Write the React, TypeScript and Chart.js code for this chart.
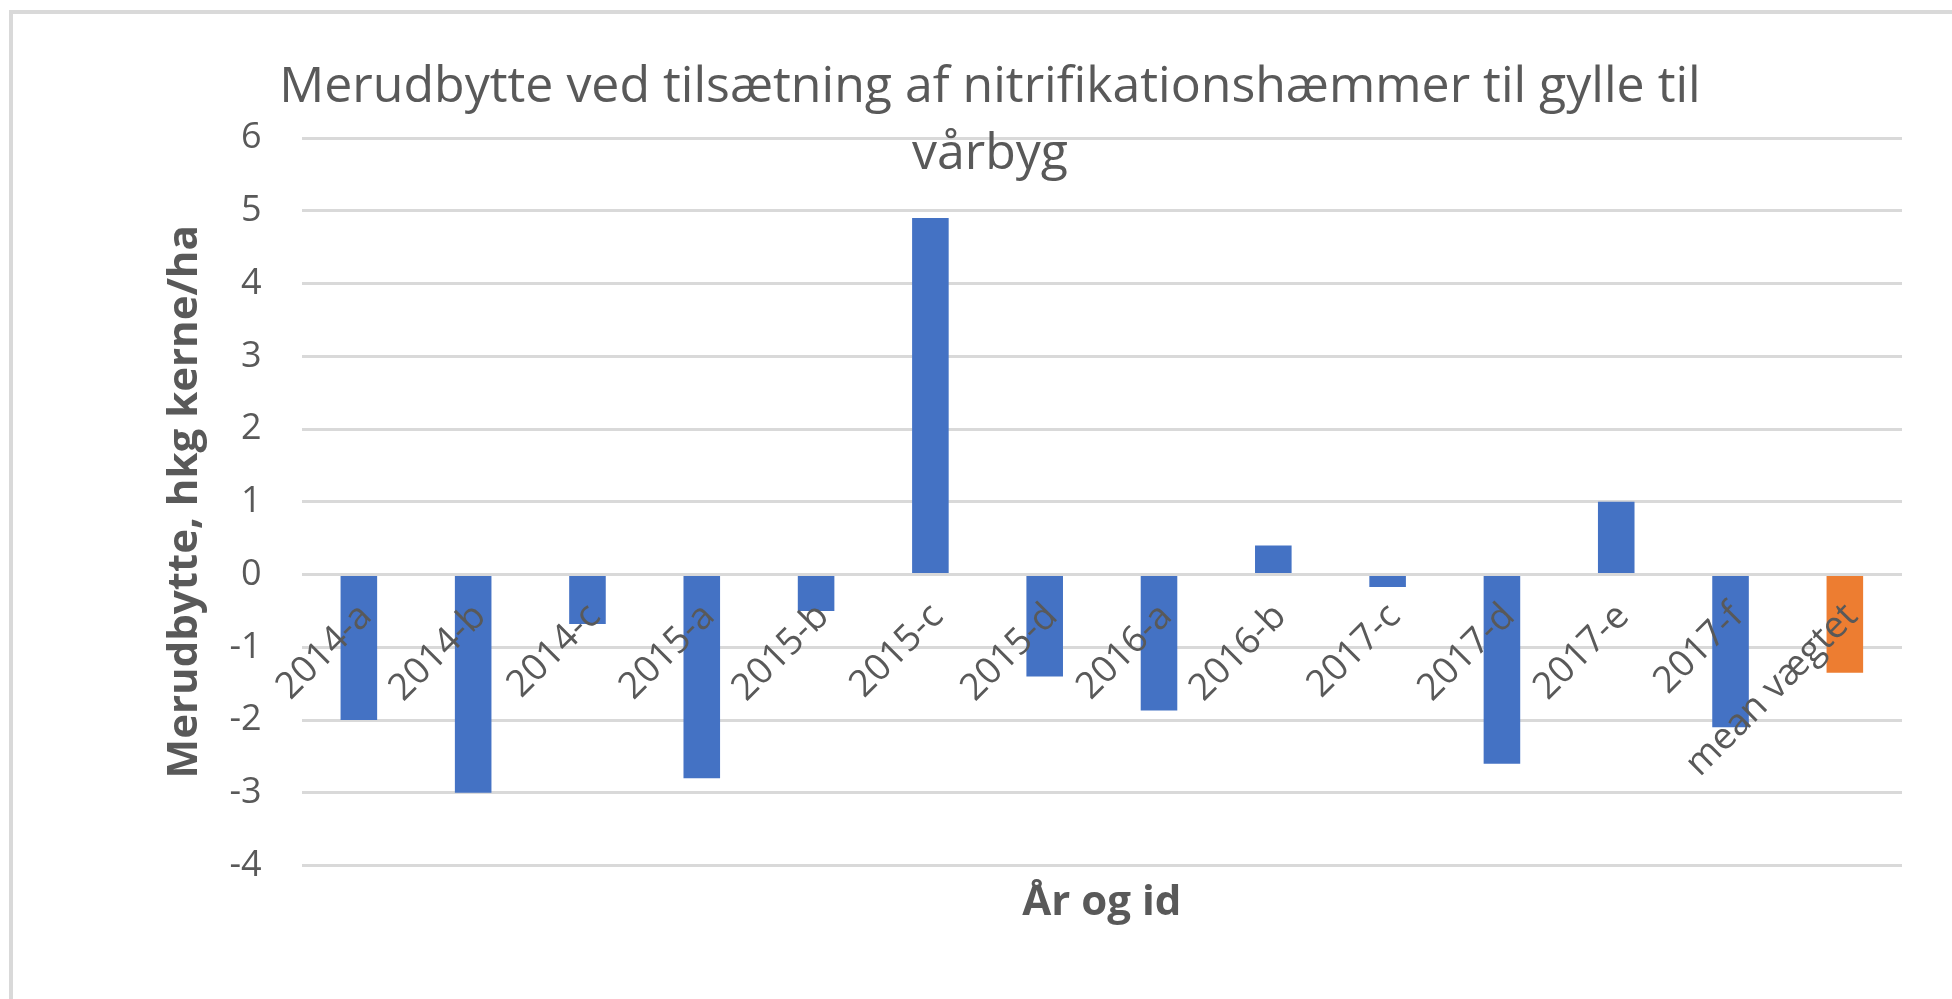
import React, { useEffect, useRef } from "react";
import { Chart, registerables } from "chart.js";

Chart.register(...registerables);

const categories = [
  "2014-a", "2014-b", "2014-c", "2015-a", "2015-b", "2015-c", "2015-d",
  "2016-a", "2016-b", "2017-c", "2017-d", "2017-e", "2017-f", "mean vægtet",
];
const merudbytte = [-2.0, -3.0, -0.68, -2.8, -0.5, 4.9, -1.4, -1.87, 0.4, -0.17, -2.6, 1.0, -2.1, -1.35];
const meanCategory = "mean vægtet";
const titleLines = ["Merudbytte ved tilsætning af nitrifikationshæmmer til gylle til", "vårbyg"];
const yAxisTitle = "Merudbytte, hkg kerne/ha";
const xAxisTitle = "År og id";
const yMin = -4;
const yMax = 6;
const yStep = 1;

const BLUE = "#4472C4";
const ORANGE = "#ED7D31";
const TEXT = "#595959";
const GRID = "#d9d9d9";
const FONT = "'Open Sans', 'Noto Sans', sans-serif";

const categoryLabelsPlugin = {
  id: "categoryLabels",
  afterDatasetsDraw(chart: any) {
    const { ctx, scales } = chart;
    const xs = scales.x;
    const ys = scales.y;
    const y0 = ys.getPixelForValue(0);
    ctx.save();
    ctx.fillStyle = TEXT;
    ctx.font = `37px ${FONT}`;
    ctx.textAlign = "right";
    ctx.textBaseline = "middle";
    categories.forEach((label, i) => {
      const x = xs.getPixelForValue(i);
      ctx.save();
      ctx.translate(x + 7, y0 + 36);
      ctx.rotate(-Math.PI / 4);
      ctx.fillText(label, 0, 0);
      ctx.restore();
    });
    ctx.restore();
  },
};

export default function App() {
  const canvasRef = useRef<HTMLCanvasElement | null>(null);

  useEffect(() => {
    if (!canvasRef.current) return;
    const chart = new Chart(canvasRef.current, {
      type: "bar",
      data: {
        labels: categories,
        datasets: [
          {
            label: "Merudbytte",
            data: merudbytte,
            backgroundColor: categories.map((c) => (c === meanCategory ? ORANGE : BLUE)),
            borderWidth: 0,
            barPercentage: 0.32,
            categoryPercentage: 1,
          },
        ],
      },
      options: {
        animation: false,
        responsive: false,
        maintainAspectRatio: false,
        layout: { padding: { left: 78, right: 50, top: 0, bottom: 0 } },
        plugins: {
          legend: { display: false },
          tooltip: { enabled: false },
          title: {
            display: true,
            text: titleLines,
            color: TEXT,
            font: { family: FONT, size: 50, weight: "normal", lineHeight: 1.34 },
            padding: { top: 54, bottom: -50 },
          },
        },
        scales: {
          x: {
            grid: { display: false, drawTicks: false },
            border: { display: false },
            ticks: { display: false },
            title: {
              display: true,
              text: xAxisTitle,
              color: TEXT,
              font: { family: FONT, size: 42, weight: "bold", lineHeight: 1.2 },
              padding: { top: 12, bottom: 71 },
            },
          },
          y: {
            min: yMin,
            max: yMax,
            afterFit(scale: any) {
              scale.width = 223.7;
            },
            grid: { color: GRID, lineWidth: 3, drawTicks: false },
            border: { display: false },
            ticks: {
              stepSize: yStep,
              color: TEXT,
              padding: 40,
              font: { family: FONT, size: 36 },
            },
            title: {
              display: true,
              text: yAxisTitle,
              color: TEXT,
              font: { family: FONT, size: 42, weight: "bold", lineHeight: 1.2 },
              padding: { top: 82, bottom: 0 },
            },
          },
        },
      },
      plugins: [categoryLabelsPlugin],
    });
    return () => chart.destroy();
  }, []);

  return (
    <div
      style={{
        position: "fixed",
        left: 0,
        top: 0,
        width: 1952,
        height: 999,
        overflow: "hidden",
        background: "#fff",
      }}
    >
      <div
        style={{
          position: "absolute",
          left: 9,
          top: 10,
          width: 3000,
          height: 3000,
          border: "4px solid #d9d9d9",
          boxSizing: "border-box",
        }}
      />
      <canvas
        ref={canvasRef}
        width={1952}
        height={999}
        style={{ position: "absolute", left: 0, top: 0, display: "block" }}
      />
    </div>
  );
}
